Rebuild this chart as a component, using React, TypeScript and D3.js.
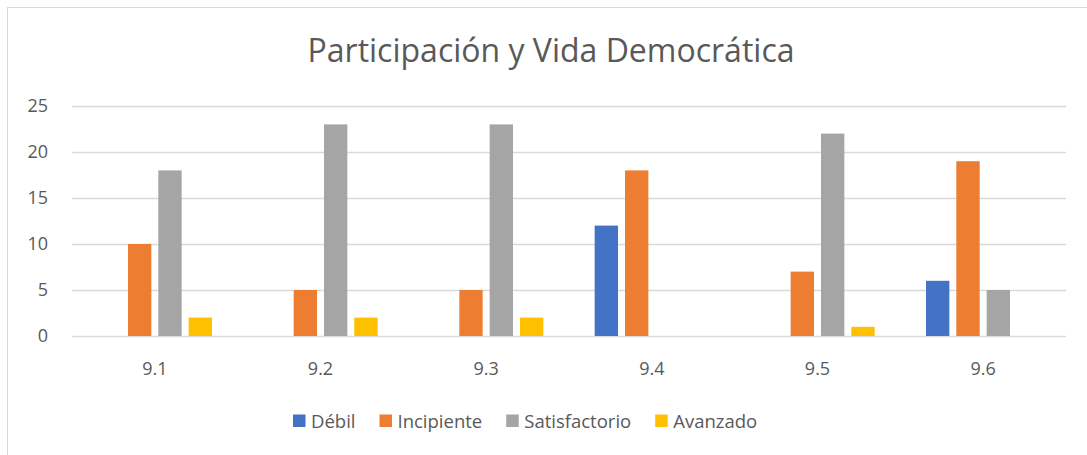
import React, { useEffect, useRef } from "react";
import * as d3 from "d3";

// chart data
const categories = ["9.1", "9.2", "9.3", "9.4", "9.5", "9.6"];
const seriesNames = ["Débil", "Incipiente", "Satisfactorio", "Avanzado"];
const debil = [0, 0, 0, 12, 0, 6];
const incipiente = [10, 5, 5, 18, 7, 19];
const satisfactorio = [18, 23, 23, 0, 22, 5];
const avanzado = [2, 2, 2, 0, 1, 0];
const yTicks = [0, 5, 10, 15, 20, 25];

const colours = ["#4472C4", "#ED7D31", "#A5A5A5", "#FFC000"];
const font = "'Open Sans', 'Noto Sans', sans-serif";
const textColour = "#595959";

var W = 1087,
  H = 455;
var margin = { top: 106, right: 21, bottom: 119, left: 72 };

const App = () => {
  const ref = useRef(null);

  useEffect(() => {
    document.body.style.margin = "0";
    const svg = d3.select(ref.current);
    svg.selectAll("*").remove();

    const values = [debil, incipiente, satisfactorio, avanzado];
    const x0 = d3
      .scaleBand()
      .domain(categories)
      .range([margin.left, W - margin.right])
      .paddingInner(0.31)
      .paddingOuter(0.155);
    const x1 = d3
      .scaleBand()
      .domain(seriesNames)
      .range([0, x0.bandwidth()])
      .paddingInner(0.23);
    const y = d3
      .scaleLinear()
      .domain([0, 25])
      .range([H - margin.bottom, margin.top]);

    // chart frame
    svg
      .append("rect")
      .attr("x", 7.5)
      .attr("y", 7.5)
      .attr("width", W + 20)
      .attr("height", H + 20)
      .attr("fill", "#fff")
      .attr("stroke", "#D9D9D9");

    // title
    svg
      .append("text")
      .attr("x", 551)
      .attr("y", 62)
      .attr("text-anchor", "middle")
      .attr("font-family", font)
      .attr("font-size", 32)
      .attr("fill", textColour)
      .text("Participación y Vida Democrática");

    // gridlines + y labels
    const g = svg.append("g");
    yTicks.forEach((t) => {
      g.append("line")
        .attr("x1", margin.left)
        .attr("x2", W - margin.right)
        .attr("y1", Math.round(y(t)) + 0.5)
        .attr("y2", Math.round(y(t)) + 0.5)
        .attr("stroke", "#D9D9D9")
        .attr("stroke-width", 1.3);
      g.append("text")
        .attr("x", 48)
        .attr("y", y(t))
        .attr("dy", "0.36em")
        .attr("text-anchor", "end")
        .attr("font-family", font)
        .attr("font-size", 18)
        .attr("fill", textColour)
        .text(t);
    });

    // bars
    values.forEach((vals, si) => {
      svg
        .append("g")
        .selectAll("rect")
        .data(vals)
        .join("rect")
        .attr("x", (d, i) => x0(categories[i]) + x1(seriesNames[si]))
        .attr("y", (d) => y(d))
        .attr("width", x1.bandwidth())
        .attr("height", (d) => y(0) - y(d))
        .attr("fill", colours[si]);
    });

    // category labels
    categories.forEach((c) => {
      svg
        .append("text")
        .attr("x", x0(c) + x0.bandwidth() / 2)
        .attr("y", 375)
        .attr("text-anchor", "middle")
        .attr("font-family", font)
        .attr("font-size", 18)
        .attr("fill", textColour)
        .text(c);
    });

    // legend, laid out from measured text widths
    const legend = svg.append("g");
    const items = seriesNames.map((name, i) => {
      const item = legend.append("g");
      item
        .append("rect")
        .attr("x", 0)
        .attr("y", -13.5)
        .attr("width", 12.5)
        .attr("height", 12.5)
        .attr("fill", colours[i]);
      const t = item
        .append("text")
        .attr("x", 18)
        .attr("y", 0)
        .attr("font-family", font)
        .attr("font-size", 18.5)
        .attr("fill", textColour)
        .text(name);
      return { item, w: 18 + t.node().getComputedTextLength() };
    });
    const gap = 24;
    let cx = 293;
    items.forEach((d) => {
      d.item.attr("transform", `translate(${cx},428)`);
      cx += d.w + gap;
    });
  }, []);

  return <svg ref={ref} width={W} height={H} style={{ display: "block" }} />;
};

export default App;
